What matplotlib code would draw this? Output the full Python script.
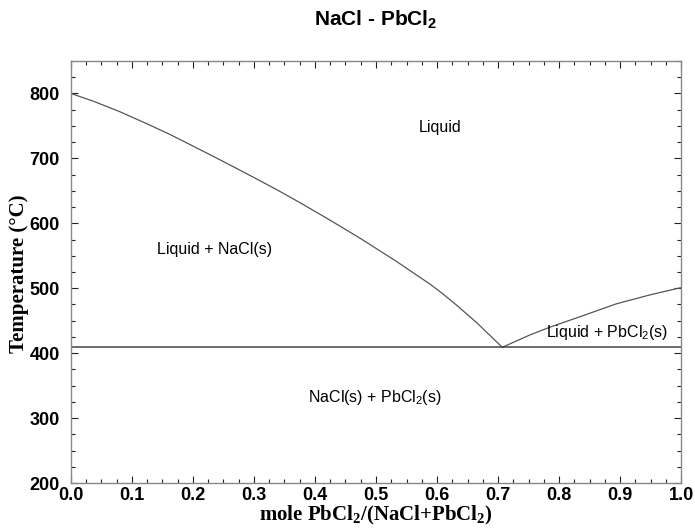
import numpy as np
import matplotlib.pyplot as plt
from matplotlib.ticker import MultipleLocator

plt.rcParams['mathtext.default'] = 'regular'

# liquidus on the NaCl-rich side (mole fraction PbCl2, T in C)
x_nacl = [0.0, 0.037, 0.080, 0.130, 0.162, 0.200, 0.244, 0.299, 0.337, 0.375,
          0.419, 0.474, 0.534, 0.589, 0.610, 0.632, 0.665, 0.707]
t_nacl = [800, 788, 772, 751, 737, 719, 698, 671, 652, 632,
          608, 577, 541, 506, 491, 474, 447, 409]

# liquidus on the PbCl2-rich side
x_pbcl2 = [0.707, 0.752, 0.785, 0.840, 0.894, 0.950, 1.0]
t_pbcl2 = [409, 428, 440, 458, 476, 490, 501]

t_eutectic = 409

# phase region labels
regions = ['Liquid', 'Liquid + NaCl(s)', 'Liquid + PbCl$_2$(s)', 'NaCl(s) + PbCl$_2$(s)']
reg_x = [0.605, 0.236, 0.879, 0.498]
reg_y = [748, 560, 432, 332]

xticks = [0.0, 0.1, 0.2, 0.3, 0.4, 0.5, 0.6, 0.7, 0.8, 0.9, 1.0]
yticks = [200, 300, 400, 500, 600, 700, 800]

fig = plt.figure(figsize=(6.95, 5.28), dpi=100)
ax = fig.add_axes([0.102, 0.0852, 0.878, 0.7993])

ax.plot(x_nacl, t_nacl, color='#555555', lw=0.9)
ax.plot(x_pbcl2, t_pbcl2, color='#555555', lw=0.9)
ax.axhline(t_eutectic, color='#444444', lw=1.1)

for s, xx, yy in zip(regions, reg_x, reg_y):
    ax.text(xx, yy, s, ha='center', va='center', fontsize=11.5,
            family='Liberation Sans')

ax.set_xlim(0, 1)
ax.set_ylim(200, 850)
ax.set_xticks(xticks)
ax.set_xticklabels(['%.1f' % v for v in xticks])
ax.set_yticks(yticks)
ax.xaxis.set_minor_locator(MultipleLocator(0.025))
ax.yaxis.set_minor_locator(MultipleLocator(25))

ax.tick_params(which='both', direction='in', top=True, right=True, color='#222222')
ax.tick_params(which='major', length=5, width=0.8, pad=8)
ax.tick_params(axis='x', which='major', pad=3)
ax.tick_params(which='minor', length=3, width=0.8)
for lab in ax.get_xticklabels() + ax.get_yticklabels():
    lab.set_family('Liberation Sans')
    lab.set_weight('bold')
    lab.set_fontsize(13)
for sp in ax.spines.values():
    sp.set_color('#888888')
    sp.set_linewidth(1.0)

ax.set_xlabel('mole PbCl$_2$/(NaCl+PbCl$_2$)', family='Liberation Serif',
              weight='bold', fontsize=15)
ax.xaxis.set_label_coords(0.499, -0.05)
ax.set_ylabel('Temperature (°C)', family='Liberation Serif', weight='bold', fontsize=15)
ax.yaxis.set_label_coords(-0.069, 0.495)

ax.text(0.5, 1.097, 'NaCl - PbCl$_2$', transform=ax.transAxes, ha='center',
        va='center', fontsize=15, weight='bold', family='Liberation Sans')

fig.savefig('out.png', dpi=100)
